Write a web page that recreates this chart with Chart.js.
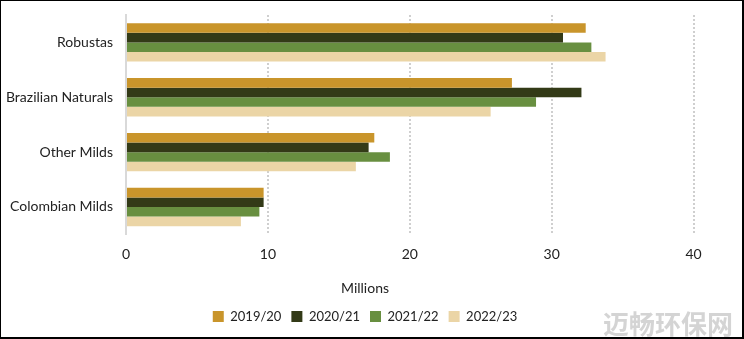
<!DOCTYPE html>
<html lang="en">
<head>
  <meta charset="UTF-8">
  <title>Coffee production by group</title>
  <script src="https://cdn.jsdelivr.net/npm/chart.js"></script>
  <style>
    body { margin: 0; background: white; }
    .frame {
      width: 744px;
      height: 339px;
      box-sizing: border-box;
      border-top: 1px solid #000;
      border-left: 1px solid #000;
      border-right: 2px solid #000;
      border-bottom: 2px solid #000;
      position: relative;
    }
    canvas { display: block; }
  </style>
</head>
<body>
  <div class="frame">
    <canvas id="chart" width="741" height="336"></canvas>
  </div>

  <script>
    const categories = ["Robustas", "Brazilian Naturals", "Other Milds", "Colombian Milds"];
    const seasons = ["2019/20", "2020/21", "2021/22", "2022/23"];
    const values2019 = [32.4, 27.2, 17.5, 9.7];
    const values2020 = [30.8, 32.1, 17.1, 9.7];
    const values2021 = [32.8, 28.9, 18.6, 9.4];
    const values2022 = [33.8, 25.7, 16.2, 8.1];
    const xTicks = [0, 10, 20, 30, 40];

    const colors = ["#C9952B", "#333A17", "#688F40", "#EBD5A6"];
    const font = "Lato";

    // watermark text in the corner
    const watermark = {
      id: "watermark",
      afterDraw(chart) {
        const ctx = chart.ctx;
        ctx.save();
        ctx.font = "bold 26px 'Noto Sans CJK SC'";
        ctx.fillStyle = "rgba(170,170,170,0.5)";
        ctx.textAlign = "right";
        ctx.textBaseline = "alphabetic";
        ctx.fillText("迈畅环保网", 732, 333);
        ctx.restore();
      }
    };

    new Chart(document.getElementById("chart"), {
      type: "bar",
      data: {
        labels: categories,
        datasets: [values2019, values2020, values2021, values2022].map((v, i) => ({
          label: seasons[i],
          data: v,
          backgroundColor: colors[i],
          categoryPercentage: 0.7,
          barPercentage: 1.0
        }))
      },
      options: {
        indexAxis: "y",
        responsive: false,
        animation: false,
        layout: { padding: { top: 14, right: 13, bottom: 4, left: 0 } },
        scales: {
          x: {
            min: 0,
            max: 42.5,
            afterBuildTicks: (scale) => {
              scale.ticks = xTicks.map(v => ({ value: v }));
            },
            ticks: {
              padding: 12,
              color: "#222",
              font: { family: font, size: 14 }
            },
            grid: {
              drawTicks: false,
              color: (c) => c.tick && c.tick.value === 0 ? "rgba(0,0,0,0)" : "#cfcfcf",
              lineWidth: 2
            },
            border: { display: false, dash: [2, 2] }
          },
          y: {
            afterFit: (scale) => {
              scale.width = 125;
              // label padding should not push the plot down
              scale.paddingTop = 0;
              scale.paddingBottom = 0;
            },
            ticks: {
              padding: 13,
              color: "#222",
              font: { family: font, size: 14 }
            },
            grid: { display: false, drawTicks: false },
            border: { display: true, color: "#d9d9d9", width: 2 }
          }
        },
        plugins: {
          title: {
            display: true,
            position: "bottom",
            text: "Millions",
            weight: 500,
            color: "#222",
            font: { family: font, size: 14, weight: "normal" },
            padding: { top: 5, bottom: 3 }
          },
          legend: {
            position: "bottom",
            labels: {
              boxWidth: 11,
              boxHeight: 11,
              padding: 10,
              color: "#222",
              font: { family: font, size: 13 }
            }
          },
          tooltip: { enabled: false }
        }
      },
      plugins: [watermark]
    });
  </script>
</body>
</html>
